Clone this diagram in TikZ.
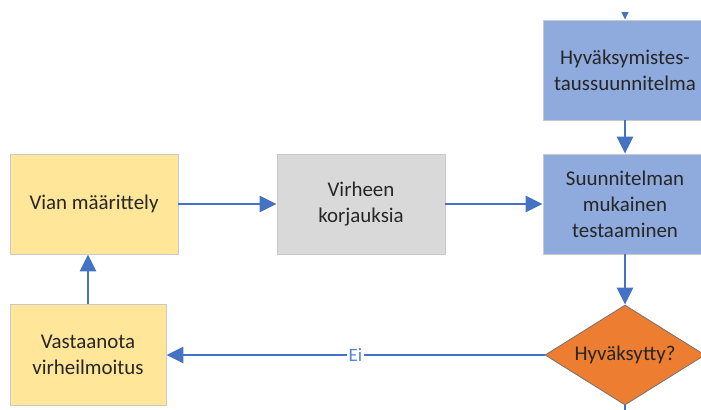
\documentclass[tikz,border=0pt]{standalone}
\usepackage{fontspec}
\setmainfont{Carlito}
\usetikzlibrary{arrows.meta,shapes.geometric}
\definecolor{boxblue}{HTML}{8FAADC}
\definecolor{boxyellow}{HTML}{FFE699}
\definecolor{boxgray}{HTML}{D9D9D9}
\definecolor{diaorange}{HTML}{ED7D31}
\definecolor{arrowblue}{HTML}{4472C4}
\definecolor{eiblue}{HTML}{5B84D0}
\definecolor{edgegray}{HTML}{C9C9C9}
\definecolor{txt}{HTML}{262626}
\tikzset{
  flowbox/.style={rectangle, draw=edgegray, line width=0.8bp, inner sep=0pt, align=center,
    text=txt, font=\fontsize{21}{26}\selectfont},
  flowarrow/.style={draw=arrowblue, line width=2.4bp, -{Triangle[length=17bp,width=16bp]}},
  flowline/.style={draw=arrowblue, line width=2.4bp},
}
\begin{document}
\begin{tikzpicture}[x=1bp,y=-1bp]
\useasboundingbox (0,0) rectangle (701,409);
\node[flowbox, fill=boxblue, minimum width=164bp, minimum height=100bp] (plan) at (625,70) {Hyväksymistes-\\taussuunnitelma};
\node[flowbox, fill=boxblue, minimum width=164bp, minimum height=100bp] (test) at (625,204) {Suunnitelman\\mukainen\\testaaminen};
\node[diamond, draw=black!55, line width=0.8bp, fill=diaorange, inner sep=0pt, minimum width=160bp, minimum height=100bp] (dia) at (625,355) {};
\node[text=txt, font=\fontsize{21}{26}\selectfont] (dialabel) at (dia.center) {Hyväksytty?};
\node[flowbox, fill=boxyellow, minimum width=168bp, minimum height=100bp] (vian) at (94,204) {Vian määrittely};
\node[flowbox, fill=boxgray, minimum width=168bp, minimum height=100bp] (virh) at (361,204) {Virheen\\korjauksia};
\node[flowbox, fill=boxyellow, minimum width=156bp, minimum height=101bp] (vast) at (88,354.5) {Vastaanota\\virheilmoitus};
\coordinate (topin) at (625,-30);
\coordinate (botout) at (625,430);
\begin{scope}
\clip (0,12) rectangle (701,409);
\draw[flowarrow] (topin) -- (plan.north);
\end{scope}
\draw[flowarrow] (plan.south) -- (test.north);
\draw[flowarrow] (test.south) -- (dia.north);
\draw[flowline] (dia.south) -- (botout);
\draw[flowarrow] (vian.east) -- (vian.east -| virh.west);
\draw[flowarrow] (virh.east) -- (virh.east -| test.west);
\draw[flowarrow] (vast.north) -- (vast.north |- vian.south);
\draw[flowarrow] (dia.west) -- node[fill=white, inner sep=1.5bp, text=eiblue, font=\fontsize{19}{22}\selectfont] (ei) {Ei} (dia.west -| vast.east);
\end{tikzpicture}
\end{document}
